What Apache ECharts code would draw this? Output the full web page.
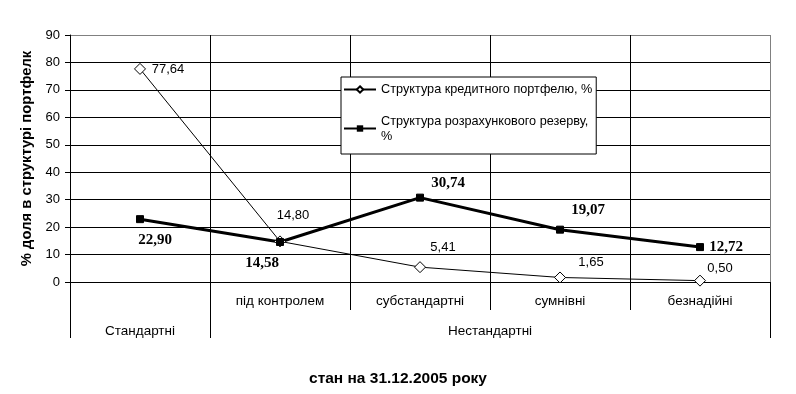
<!DOCTYPE html>
<html><head><meta charset="utf-8">
<script src="https://cdn.jsdelivr.net/npm/echarts@6/dist/echarts.min.js"></script>
<style>html,body{margin:0;padding:0;background:#fff}#c{width:796px;height:394px}</style>
</head><body><div id="c"></div>
<script>
// ---- data ----
const subCategories = ['', 'під контролем', 'субстандартні', 'сумнівні', 'безнадійні'];
const groupNames = ['Стандартні', 'Нестандартні'];
const groupSpans = [1, 4];
const seriesNames = ['Структура кредитного портфелю, %', 'Структура розрахункового резерву,\n%'];
const portfolio = [77.64, 14.80, 5.41, 1.65, 0.50];
const reserve = [22.90, 14.58, 30.74, 19.07, 12.72];
const yTicks = [0, 10, 20, 30, 40, 50, 60, 70, 80, 90];
const yTitle = '% доля в структурі портфелк';
const xTitle = 'стан на 31.12.2005 року';

// ---- layout (label offsets, styles) ----
const off1 = [[28, 1], [13, -26], [23, -20], [31, -15], [20, -12]];
const off2 = [[15, 21], [-18, 21], [28, -15], [28, -20], [26, 0]];
const SANS = 'Arial, "Liberation Sans", sans-serif';
const SERIF = '"Times New Roman", "Liberation Serif", serif';
const fmt = v => v.toFixed(2).replace('.', ',');

// group axis: half-category units
const total = groupSpans.reduce((a, b) => a + b, 0);
const groupTicks = [0];
const groupLabelPos = [];
let acc = 0;
groupSpans.forEach(s => { groupLabelPos.push(acc + s); acc += 2 * s; groupTicks.push(acc); });

const chart = echarts.init(document.getElementById('c'), null, {renderer: 'canvas'});
chart.setOption({
  animation: false,
  backgroundColor: '#fff',
  textStyle: {fontFamily: SANS},
  title: {
    text: xTitle, left: 'center', top: 366,
    textStyle: {fontFamily: SANS, fontSize: 15.5, fontWeight: 'bold', color: '#000'}
  },
  legend: {
    orient: 'vertical', left: 341, top: 77,
    padding: [5, 4, 3, 2], itemGap: 9,
    itemWidth: 32, itemHeight: 8,
    backgroundColor: '#fff', borderColor: '#000', borderWidth: 1,
    textStyle: {fontFamily: SANS, fontSize: 12.7, color: '#000', lineHeight: 15},
    data: [
      {name: seriesNames[0]},
      {name: seriesNames[1], textStyle: {padding: [15, 0, 0, 0]}}
    ]
  },
  grid: {left: 70, right: 26, top: 35, bottom: 112, containLabel: false, outerBoundsMode: 'none'},
  xAxis: [{
    type: 'category', data: subCategories, boundaryGap: true, position: 'bottom',
    axisLine: {lineStyle: {color: '#000', width: 1}},
    axisTick: {show: true, interval: 0, length: 28, lineStyle: {color: '#000'}},
    axisLabel: {interval: 0, margin: 12, fontSize: 13.5, color: '#000', fontFamily: SANS},
    splitLine: {show: true, interval: 0, lineStyle: {color: ['#000', '#000', '#000', '#000', '#000', '#808080'], width: 1}}
  }, {
    type: 'value', min: 0, max: 2 * total, position: 'bottom', offset: 28, gridIndex: 0,
    axisLine: {show: false},
    axisTick: {show: true, customValues: groupTicks, length: 28, lineStyle: {color: '#000'}},
    axisLabel: {
      customValues: groupLabelPos, margin: 14, fontSize: 13.5, color: '#000', fontFamily: SANS,
      formatter: v => groupNames[groupLabelPos.indexOf(v)] || ''
    },
    splitLine: {show: false}
  }],
  yAxis: {
    type: 'value', min: yTicks[0], max: yTicks[yTicks.length - 1], interval: 10,
    name: yTitle, nameLocation: 'middle', nameGap: 33, nameRotate: 90,
    nameTextStyle: {fontFamily: SANS, fontSize: 14.8, fontWeight: 'bold', color: '#000'},
    axisLine: {show: true, lineStyle: {color: '#000'}},
    axisTick: {show: true, length: 5, lineStyle: {color: '#000'}},
    axisLabel: {margin: 10, fontSize: 13, color: '#000', fontFamily: SANS},
    splitLine: {show: true, lineStyle: {color: ['#000', '#000', '#000', '#000', '#000', '#000', '#000', '#000', '#000', '#808080'], width: 1}}
  },
  series: [{
    name: seriesNames[0], type: 'line', xAxisIndex: 0,
    symbol: 'diamond', symbolSize: 11,
    lineStyle: {color: '#000', width: 1},
    itemStyle: {color: '#fff', borderColor: '#000', borderWidth: 1},
    emphasis: {disabled: true},
    label: {show: true, position: 'inside', fontFamily: SANS, fontSize: 13, color: '#000',
      formatter: p => fmt(p.value)},
    data: portfolio.map((v, i) => ({value: v, label: {offset: off1[i]}}))
  }, {
    name: seriesNames[1], type: 'line', xAxisIndex: 0,
    symbol: 'rect', symbolSize: 7,
    lineStyle: {color: '#000', width: 3},
    itemStyle: {color: '#000', borderColor: '#000'},
    emphasis: {disabled: true},
    label: {show: true, position: 'inside', fontFamily: SERIF, fontSize: 15, fontWeight: 'bold', color: '#000',
      formatter: p => fmt(p.value)},
    data: reserve.map((v, i) => ({value: v, label: {offset: off2[i]}}))
  }]
});
</script></body></html>
